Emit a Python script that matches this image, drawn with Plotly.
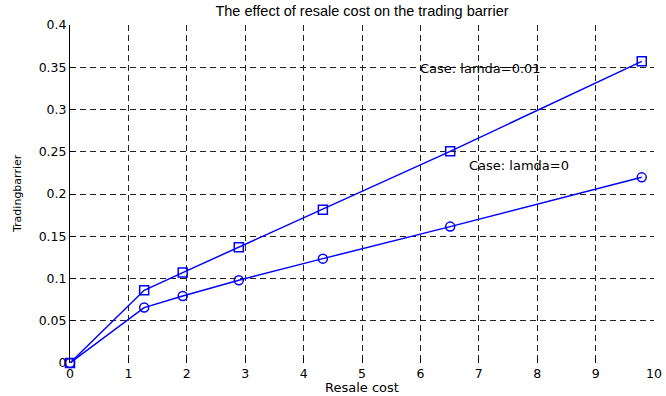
import plotly.graph_objects as go

# Resale cost values (x) and trading barrier for the two cases
resale_cost = [0, 1.27, 1.93, 2.89, 4.33, 6.51, 9.79]
barrier_lamda_001 = [0, 0.086, 0.107, 0.137, 0.1815, 0.2505, 0.357]
barrier_lamda_0 = [0, 0.0656, 0.0793, 0.098, 0.1235, 0.1614, 0.2197]

x_ticks = [0, 1, 2, 3, 4, 5, 6, 7, 8, 9, 10]
y_ticks = [0, 0.05, 0.1, 0.15, 0.2, 0.25, 0.3, 0.35, 0.4]
y_tick_text = ["0", "0.05", "0.1", "0.15", "0.2", "0.25", "0.3", "0.35", "0.4"]

blue = "#0000FF"
tick_font = dict(family="DejaVu Sans", size=12.5, color="black")

fig = go.Figure()
fig.add_trace(go.Scatter(
    x=resale_cost, y=barrier_lamda_001, mode="lines+markers",
    line=dict(color=blue, width=1.5),
    marker=dict(symbol="square-open", size=9, color=blue, line=dict(width=1.5, color=blue)),
    showlegend=False, cliponaxis=False,
))
fig.add_trace(go.Scatter(
    x=resale_cost, y=barrier_lamda_0, mode="lines+markers",
    line=dict(color=blue, width=1.5),
    marker=dict(symbol="circle-open", size=9, color=blue, line=dict(width=1.5, color=blue)),
    showlegend=False, cliponaxis=False,
))

fig.add_annotation(x=5.96, y=0.349, text="Case: lamda=0.01", showarrow=False,
                   xanchor="left", yanchor="middle",
                   font=dict(family="DejaVu Sans", size=13, color="black"))
fig.add_annotation(x=6.80, y=0.234, text="Case: lamda=0", showarrow=False,
                   xanchor="left", yanchor="middle",
                   font=dict(family="DejaVu Sans", size=13, color="black"))

# Axis titles placed as paper annotations so the plot area keeps fixed margins
fig.add_annotation(x=362, y=387, xref="paper", yref="paper", text="Resale cost",
                   showarrow=False, xanchor="center", yanchor="middle",
                   font=dict(family="DejaVu Sans", size=13, color="black"))
fig.add_annotation(x=17, y=194, xref="paper", yref="paper", text="Tradingbarrier",
                   showarrow=False, xanchor="center", yanchor="middle", textangle=-90,
                   font=dict(family="DejaVu Sans", size=11, color="black"))

PLOT_L, PLOT_R, PLOT_T, PLOT_B = 70, 654, 25, 363
W, H = 666, 396


def to_paper(ann):
    # convert pixel positions of paper annotations into paper fractions
    ann.x = (ann.x - PLOT_L) / (PLOT_R - PLOT_L)
    ann.y = (PLOT_B - ann.y) / (PLOT_B - PLOT_T)


for a in fig.layout.annotations:
    if a.xref == "paper":
        to_paper(a)

fig.update_layout(
    width=W, height=H, autosize=False,
    margin=dict(l=PLOT_L, r=W - PLOT_R, t=PLOT_T, b=H - PLOT_B),
    paper_bgcolor="white", plot_bgcolor="white",
    title=dict(text="The effect of resale cost on the trading barrier",
               x=(PLOT_L + PLOT_R) / 2 / W, xanchor="center", y=1 - 11 / H, yanchor="middle",
               font=dict(family="Liberation Sans", size=14.5, color="black")),
    font=dict(family="Liberation Sans", color="black"),
)

fig.update_xaxes(
    range=[0, 10], tickmode="array", tickvals=x_ticks, automargin=False,
    ticks="inside", ticklen=5, tickcolor="black", tickwidth=1,
    tickfont=tick_font, ticklabelstandoff=1, showline=False, zeroline=False,
    showgrid=True, gridcolor="#222222", gridwidth=1, griddash="6px,4px",
)
fig.update_yaxes(
    range=[0, 0.4], tickmode="array", tickvals=y_ticks, ticktext=y_tick_text, automargin=False,
    ticks="inside", ticklen=5, tickcolor="black", tickwidth=1,
    tickfont=tick_font, showline=True, linecolor="black", linewidth=1,
    zeroline=False,
    showgrid=True, gridcolor="#222222", gridwidth=1, griddash="6px,4px",
)

fig.write_html("out.html")
